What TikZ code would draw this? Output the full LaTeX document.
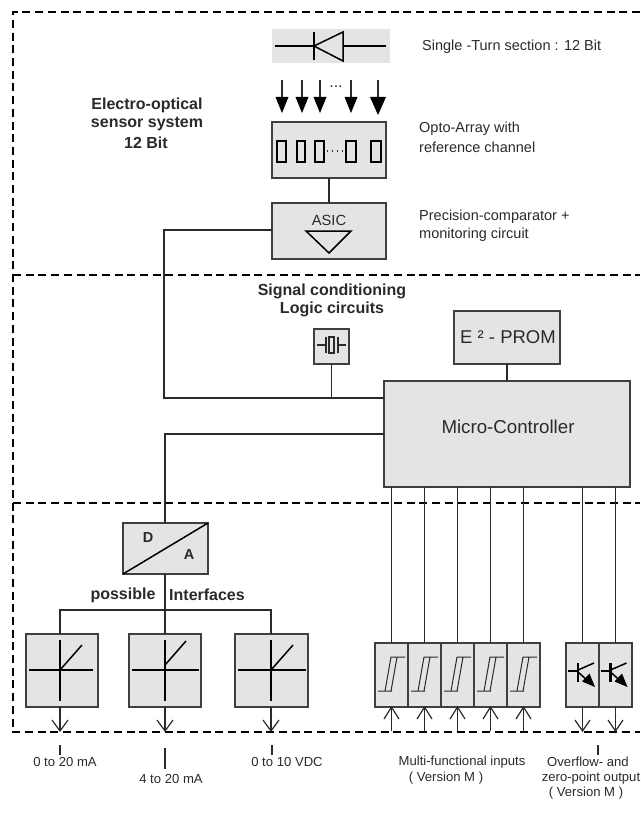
\documentclass[tikz,border=0pt]{standalone}
\usepackage{fontspec}
\usetikzlibrary{calc}
\setmainfont{Liberation Sans}
\newcommand{\fsz}[1]{\fontsize{#1}{#1}\selectfont}
\definecolor{boxgray}{HTML}{E4E4E4}
\definecolor{ink}{HTML}{2A2A2A}
\tikzset{
  gbox/.style={draw=ink!90,fill=boxgray,line width=1.05pt,inner sep=0pt,outer sep=0pt,anchor=north west,font=\fsz{18.7},text=ink},
  wire/.style={draw=ink,line width=1.2pt},
  sym/.style={draw=black,line width=1.5pt},
  symthick/.style={draw=black,line width=2.3pt},
  frame/.style={draw=black,line width=1.7pt,dash pattern=on 8pt off 4.7pt},
  lbl/.style={font=\fsz{14.5},text=ink,inner sep=0pt,anchor=west},
  clbl/.style={font=\fsz{13.1},text=ink,inner sep=0pt,anchor=center},
  blbl/.style={font=\bfseries\fsz{16},text=ink,inner sep=0pt,anchor=center},
  vhead/.style={draw=ink,line width=1.2pt,line join=miter},
}
\begin{document}
\begin{tikzpicture}[x=1pt,y=-1pt]
\useasboundingbox (0,0) rectangle (640,818);
% frame
\coordinate (ftl) at (13,12); \coordinate (ftr) at (640,12);
\coordinate (fbl) at (13,732); \coordinate (fbr) at (640,732);
\coordinate (m1l) at (13,275); \coordinate (m1r) at (640,275);
\coordinate (m2l) at (13,503); \coordinate (m2r) at (640,503);
\draw[frame] (ftr) -- (ftl) -- (fbl) -- (fbr);
\draw[frame] (m1l) -- (m1r);
\draw[frame] (m2l) -- (m2r);
% boxes
\node[gbox,draw=none,minimum width=118pt,minimum height=34pt] (diode) at (272,29) {};
\node[gbox,minimum width=114pt,minimum height=56pt] (opto) at (272,122) {};
\node[gbox,minimum width=114pt,minimum height=56pt] (asic) at (272,203) {};
\node[gbox,minimum width=35pt,minimum height=35pt] (xtal) at (314,329) {};
\node[gbox,minimum width=106pt,minimum height=53pt] (prom) at (454,311) {};
\node[gbox,minimum width=246pt,minimum height=106pt] (mc) at (384,381) {};
\node[gbox,minimum width=85pt,minimum height=51pt] (da) at (123,523) {};
\node[gbox,minimum width=72pt,minimum height=73pt] (if1) at (26,634) {};
\node[gbox,minimum width=72pt,minimum height=73pt] (if2) at (129,634) {};
\node[gbox,minimum width=73pt,minimum height=73pt] (if3) at (235,634) {};
\foreach \n/\x in {i1/375,i2/408,i3/441,i4/474,i5/507,o1/566,o2/599}
  \node[gbox,minimum width=33pt,minimum height=64pt] (\n) at (\x,643) {};
% box texts
\node[font=\fsz{18.7},text=ink,inner sep=0pt] (mctext) at (508,427) {Micro-Controller};
\node[font=\fsz{18.5},text=ink,inner sep=0pt] (promtext) at (508,337) {E ² - PROM};
\node[font=\fsz{14.7},text=ink,inner sep=0pt] (asictext) at (329,220) {ASIC};
\node[font=\bfseries\fsz{14.5},text=ink,inner sep=0pt] (dtext) at (148,538) {D};
\node[font=\bfseries\fsz{14.5},text=ink,inner sep=0pt] (atext) at (189,555) {A};
% connectors
\draw[wire] (opto.south) -- (asic.north);
\coordinate (busa) at (164,230);
\coordinate (busb) at (164,398);
\coordinate (busc) at (165,434);
\draw[wire] (asic.west |- busa) -- (busa) -- (busb) -- (mc.west |- busb);
\draw[wire] (xtal.south) -- (xtal.south |- busb);
\draw[wire] (prom.south) -- (prom.south |- mc.north);
\draw[wire] (mc.west |- busc) -- (busc) -- (da.north -| busc);
\coordinate (ifbus) at (165,610);
\coordinate (ifl) at (60,610);
\coordinate (ifr) at (271,610);
\draw[wire] (da.south -| ifbus) -- (ifbus) -- (ifbus |- if2.north);
\draw[wire] (ifl |- if1.north) -- (ifl) -- (ifr) -- (ifr |- if3.north);
\foreach \n in {i1,i2,i3,i4,i5,o1,o2}
  \draw[wire] (mc.south -| \n.north) -- (\n.north);
% output arrows through the frame
\foreach \n/\c in {if1/ifl,if2/ifbus,if3/ifr}{
  \coordinate (s\n) at (\n.south -| \c);
  \draw[wire] (s\n) -- ++(0,24) coordinate (t\n);
  \draw[vhead] ($(t\n)+(-8,-11)$) -- (t\n) -- ($(t\n)+(8,-11)$);
}
\foreach \n in {o1,o2}{
  \coordinate (a\n) at (\n.south);
  \draw[wire] (a\n) -- ++(0,24) coordinate (t\n);
  \draw[vhead] ($(t\n)+(-7.5,-11)$) -- (t\n) -- ($(t\n)+(7.5,-11)$);
}
\foreach \n in {i1,i2,i3,i4,i5}{
  \coordinate (a\n) at (\n.south);
  \draw[wire] (a\n) -- ++(0,24);
  \draw[vhead] ($(a\n)+(-7.5,12)$) -- (a\n) -- ($(a\n)+(7.5,12)$);
}
% ticks
\foreach \x/\a/\b in {60/745/755,165/748/769,272/745/755,598/745/755}
  \draw[wire] (\x,\a) -- (\x,\b);
% diode
\draw[sym,fill=boxgray] (314,46) -- (343,32) -- (343,61) -- cycle;
\draw[sym] (314,32) -- (314,60);
\draw[sym] (275,46) -- (314,46) (343,46) -- (386,46);
% light arrows
\foreach \x/\w/\t in {282/6.5/113,302/6.5/113,320/6.5/113,351/6.5/113,378/8/115}{
  \draw[wire] (\x,80) -- (\x,100);
  \fill[black] (\x-\w,97) -- (\x+\w,97) -- (\x,\t) -- cycle;
}
\node[font=\fsz{16},text=ink,inner sep=0pt] (dots1) at (336,87) {...};
% opto elements
\foreach \a/\b in {277/286,297/305,315/324,346/356,371/381}
  \draw[draw=black,line width=1.9pt] (\a,141) rectangle (\b,162);
\draw[ink,line width=1.2pt,dash pattern=on 1.2pt off 3.8pt] (327,151) -- (345,151);
% comparator
\draw[sym] (306,231) -- (351,231) -- (329,253) -- cycle;
% crystal
\draw[draw=ink,line width=1.2pt] (317,345) -- (326,345) (326,337) -- (326,353)
  (329,337) rectangle (334,353) (338,337) -- (338,353) (338,345) -- (346,345);
% D/A diagonal
\draw[sym] (da.south west) -- (da.north east);
% interface symbols
\foreach \cx/\l/\r/\sy/\ex/\ey in {60/29/93/670/82/645,165/132/199/665/186/641,271/238/306/670/293/645}{
  \draw[symthick] (\cx,640) -- (\cx,701);
  \draw[sym] (\l,670) -- (\r,670);
  \draw[sym] (\cx,\sy) -- (\ex,\ey);
}
% hysteresis
\foreach \dx in {0,33,66,99,132}{
  \begin{scope}[xshift=\dx pt]
    \draw[draw=ink,line width=1pt] (378,691) -- (392,691) (385,691) -- (391,657) -- (405,657) (391,691) -- (397,657);
  \end{scope}
}
% transistors
\foreach \dx in {0,32.5}{
  \begin{scope}[xshift=\dx pt]
    \draw[sym] (568,671) -- (578,671);
    \draw[draw=black,line width=2.8pt] (578,663) -- (578,682);
    \draw[sym] (578,670) -- (594,663);
    \draw[sym] (578,672) -- (588,681);
    \fill[black] (595,687) -- (582,681.5) -- (589.5,673.5) -- cycle;
  \end{scope}
}
% labels
\node[lbl] (l1) at (422,47) {Single -Turn section : 12 Bit};
\node[lbl] (l2) at (419,129) {Opto-Array with};
\node[lbl] (l3) at (419,147) {reference channel};
\node[lbl] (l4) at (419,217) {Precision-comparator +};
\node[lbl] (l5) at (419,235) {monitoring circuit};
\node[blbl] (b1) at (147,105) {Electro-optical};
\node[blbl] (b2) at (147,124) {sensor system};
\node[blbl] (b3) at (146,143) {12 Bit};
\node[blbl] (b4) at (332,291) {Signal conditioning};
\node[blbl] (b5) at (332,309) {Logic circuits};
\node[blbl] (b6) at (123,595) {possible};
\node[blbl] (b7) at (207,595) {Interfaces};
\node[clbl] (c1) at (65,762) {0 to 20 mA};
\node[clbl] (c2) at (171,779) {4 to 20 mA};
\node[clbl] (c3) at (287,762) {0 to 10 VDC};
\node[clbl] (c4) at (462,762) {Multi-functional inputs};
\node[clbl] (c5) at (446,778) {( Version M )};
\node[clbl] (c6) at (588,762) {Overflow- and};
\node[clbl] (c7) at (591,778) {zero-point output};
\node[clbl] (c8) at (586,793) {( Version M )};
\end{tikzpicture}
\end{document}
